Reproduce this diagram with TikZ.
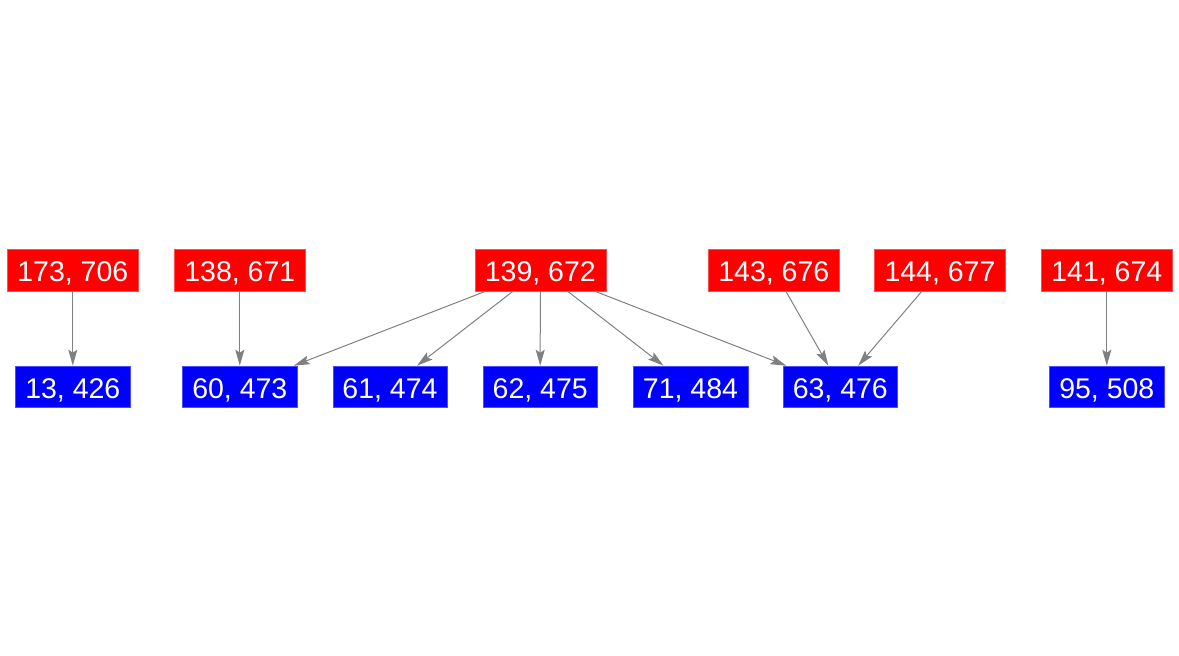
\documentclass[tikz,border=0pt]{standalone}
\usepackage{fontspec}
\setmainfont{Liberation Sans}
\usetikzlibrary{arrows.meta}
\definecolor{edgegray}{RGB}{128,128,128}
\tikzset{
  boxbase/.style={line width=0.5pt, text=white, minimum height=41.5pt, inner sep=0pt, text height=23.4pt, text depth=0pt, font=\fontsize{28.5}{28.5}\selectfont},
  redbox/.style={boxbase, fill=red, draw=red!70!white, minimum width=131pt},
  bluebox/.style={boxbase, fill=blue, draw=blue!70!white, minimum width=114.5pt},
  edge/.style={draw=edgegray, line width=1pt, -{Stealth[length=16pt,width=9pt,inset=3pt]}}
}
\begin{document}
\begin{tikzpicture}[x=1pt,y=-1pt]
\useasboundingbox (0,0) rectangle (1179,656);
\node[redbox] (r173) at (72.8,270) {173, 706};
\node[redbox] (r138) at (239.8,270) {138, 671};
\node[redbox] (r139) at (540.3,270) {139, 672};
\node[redbox] (r143) at (773.8,270) {143, 676};
\node[redbox] (r144) at (940,270) {144, 677};
\node[redbox] (r141) at (1106.8,270) {141, 674};
\node[bluebox] (b13) at (72.8,386.7) {13, 426};
\node[bluebox] (b60) at (239.8,386.7) {60, 473};
\node[bluebox] (b61) at (390,386.7) {61, 474};
\node[bluebox] (b62) at (540.2,386.7) {62, 475};
\node[bluebox] (b71) at (690.5,386.7) {71, 484};
\node[bluebox] (b63) at (840.3,386.7) {63, 476};
\node[bluebox] (b95) at (1106.8,386.7) {95, 508};
\draw[edge] (r173) -- (b13);
\draw[edge] (r138) -- (b60);
\draw[edge] (r139) -- (b60);
\draw[edge] (r139) -- (b61);
\draw[edge] (r139) -- (b62);
\draw[edge] (r139) -- (b71);
\draw[edge] (r139) -- (b63);
\draw[edge] (r143) -- (b63);
\draw[edge] (r144) -- (b63);
\draw[edge] (r141) -- (b95);
\end{tikzpicture}
\end{document}
